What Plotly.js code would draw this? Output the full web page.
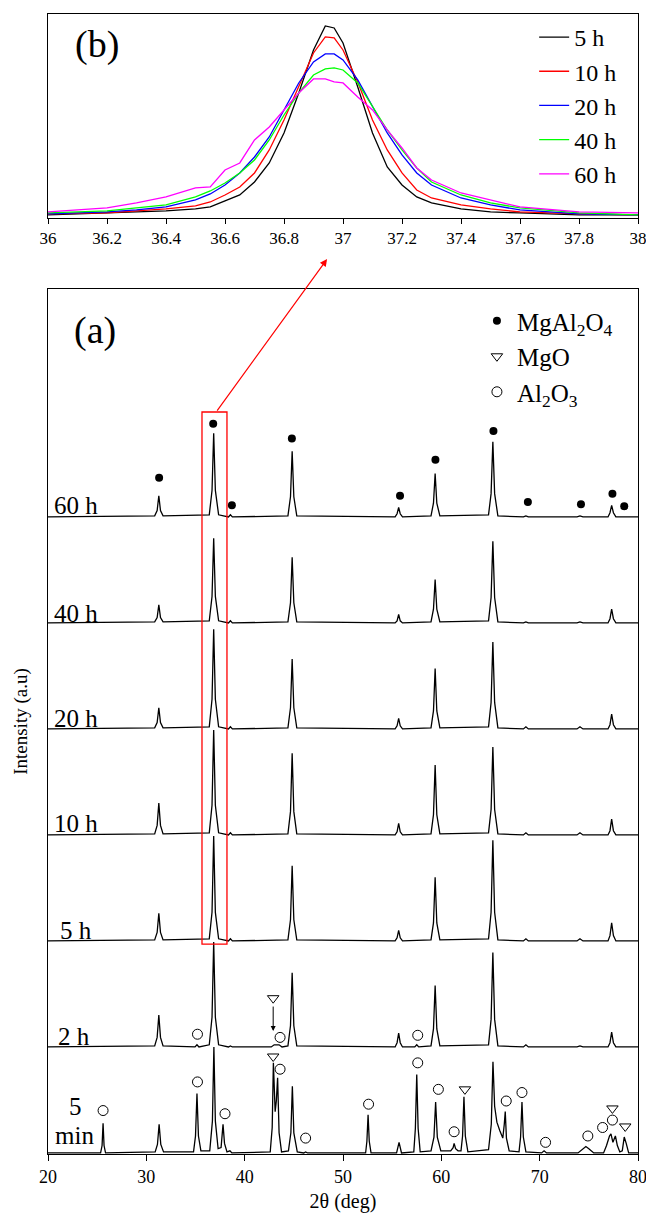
<!DOCTYPE html>
<html>
<head>
<meta charset="utf-8">
<script src="https://cdn.plot.ly/plotly-3.0.1.min.js"></script>
<style>html,body{margin:0;padding:0;background:#fff;}#chart{width:646px;height:1215px;}</style>
</head>
<body>
<div id="chart"></div>
<script>
// ---------- Panel (b): zoom on the (311) peak ----------
const zoomX = [36.0,36.2,36.3,36.4,36.5,36.55,36.6,36.65,36.7,36.75,36.8,36.85,36.9,36.94,36.97,37.0,37.05,37.1,37.15,37.2,37.25,37.3,37.4,37.5,37.6,37.8,38.0];
const zoom5h  = [3,5,6,7,9,11,17,23,36,55,85,125,168,192,190,175,131,85,51,33,21,15,9,6,5,3,3];
const zoom10h = [4,5,7,9,12,16,23,31,45,68,98,131,165,181,180,168,136,98,68,45,28,20,13,9,6,4,3];
const zoom20h = [4,6,8,11,18,24,33,45,61,81,108,135,156,164,164,158,138,111,85,63,45,33,20,13,8,4,3];
const zoom40h = [5,7,10,13,21,27,35,45,58,78,103,125,143,149,150,148,135,111,88,68,50,36,23,15,10,5,3];
const zoom60h = [6,10,15,21,30,31,48,55,78,91,108,125,139,139,136,135,121,108,88,70,50,38,25,18,11,6,5];
const zoomNames  = ['5 h','10 h','20 h','40 h','60 h'];
const zoomColors = ['#000000','#ff0000','#0000ff','#00ff00','#ff00ff'];
const zoomTickVals = [36,36.2,36.4,36.6,36.8,37,37.2,37.4,37.6,37.8,38];
const zoomTickText = ['36','36.2','36.4','36.6','36.8','37','37.2','37.4','37.6','37.8','38'];

// ---------- Panel (a): stacked XRD patterns ----------
const spinelX = [20,
  30.85,31.1,31.27,31.44,31.7,
  36.4,36.68,36.85,37.02,37.35,
  38.35,38.55,38.75,
  44.4,44.66,44.83,45.0,45.3,
  55.3,55.5,55.66,55.82,56.05,
  58.95,59.2,59.37,59.54,59.85,
  64.8,65.06,65.24,65.42,65.75,
  68.35,68.6,68.85,
  73.8,74.1,74.4,
  76.95,77.15,77.32,77.5,77.75,
  80];
const y60h = [0.01, 0.02,0.07,0.21,0.07,0.02, 0.03,0.26,0.80,0.26,0.03, 0.01,0.03,0.01, 0.02,0.20,0.63,0.20,0.02, 0.01,0.04,0.10,0.04,0.01, 0.02,0.14,0.42,0.14,0.02, 0.03,0.23,0.72,0.23,0.02, 0.01,0.02,0.01, 0.01,0.02,0.01, 0.01,0.05,0.12,0.05,0.01, 0.01];
const y40h = [0.01, 0.02,0.06,0.18,0.06,0.02, 0.03,0.26,0.81,0.26,0.03, 0.01,0.03,0.01, 0.02,0.20,0.63,0.20,0.02, 0.01,0.03,0.09,0.03,0.01, 0.02,0.14,0.42,0.14,0.02, 0.03,0.25,0.78,0.25,0.02, 0.01,0.02,0.01, 0.01,0.02,0.01, 0.01,0.05,0.14,0.05,0.01, 0.01];
const y20h = [0.01, 0.02,0.07,0.21,0.07,0.02, 0.03,0.29,0.95,0.29,0.03, 0.01,0.03,0.01, 0.02,0.21,0.67,0.21,0.02, 0.01,0.04,0.11,0.04,0.01, 0.02,0.18,0.58,0.18,0.02, 0.03,0.26,0.83,0.26,0.02, 0.01,0.03,0.01, 0.01,0.03,0.01, 0.01,0.05,0.15,0.05,0.01, 0.01];
const y10h = [0.01, 0.02,0.10,0.31,0.10,0.02, 0.03,0.29,1.00,0.29,0.03, 0.01,0.03,0.01, 0.02,0.23,0.78,0.23,0.02, 0.01,0.04,0.12,0.04,0.01, 0.02,0.20,0.67,0.20,0.02, 0.03,0.25,0.84,0.25,0.02, 0.01,0.03,0.01, 0.01,0.03,0.01, 0.01,0.05,0.16,0.05,0.01, 0.01];
const y5h  = [0.01, 0.02,0.09,0.27,0.09,0.02, 0.03,0.28,1.00,0.28,0.03, 0.01,0.03,0.01, 0.02,0.21,0.72,0.21,0.02, 0.01,0.04,0.11,0.04,0.01, 0.02,0.18,0.61,0.18,0.02, 0.03,0.28,0.96,0.28,0.02, 0.01,0.03,0.01, 0.01,0.03,0.01, 0.01,0.06,0.18,0.06,0.01, 0.01];

const x2h = [20, 30.85,31.1,31.27,31.44,31.7, 34.95,35.15,35.35, 36.4,36.68,36.85,37.02,37.35, 38.35,38.55,38.75, 42.7,43.0,43.5,43.8, 44.4,44.66,44.83,45.0,45.3, 55.3,55.5,55.66,55.82,56.05, 57.3,57.5,57.7, 58.95,59.2,59.37,59.54,59.85, 64.8,65.06,65.24,65.42,65.75, 68.35,68.6,68.85, 73.8,74.1,74.4, 76.95,77.15,77.32,77.5,77.75, 80];
const y2h = [0.01, 0.02,0.10,0.31,0.10,0.02, 0.01,0.03,0.01, 0.03,0.29,1.00,0.29,0.03, 0.01,0.02,0.01, 0.01,0.03,0.03,0.01, 0.02,0.21,0.71,0.21,0.02, 0.01,0.05,0.14,0.05,0.01, 0.01,0.03,0.01, 0.02,0.18,0.59,0.18,0.02, 0.03,0.27,0.90,0.27,0.02, 0.01,0.03,0.01, 0.01,0.02,0.01, 0.01,0.05,0.15,0.05,0.01, 0.01];

const x5min = [20,
  25.35,25.5,25.6,25.7,25.85,
  30.9,31.13,31.3,31.47,31.75,
  34.8,35.0,35.15,35.3,35.55,
  36.45,36.72,36.87,37.02,37.3,
  37.6,37.8,37.95,38.2,
  38.5,38.7,
  42.6,42.8,42.92,43.1,43.22,43.35,43.5,43.75,
  44.45,44.7,44.85,45.0,45.35,
  46.0,46.2,46.4,
  52.3,52.43,52.55,52.67,52.85,
  55.45,55.7,55.95,
  57.2,57.36,57.5,57.64,57.85,
  58.95,59.25,59.42,59.59,59.95,
  60.95,61.2,61.3,61.45,61.7,
  62.0,62.16,62.3,62.44,62.7,
  64.8,65.08,65.25,65.42,65.65,65.95,66.25,66.4,66.5,66.62,66.9,
  67.9,68.06,68.2,68.34,68.6,
  70.2,70.45,70.7,
  73.9,74.4,74.7,75.0,75.5,
  76.5,76.8,77.1,77.25,77.45,77.7,77.9,78.15,78.4,78.6,78.8,79.05,
  80];
const y5min = [0.01,
  0.01,0.08,0.29,0.08,0.01,
  0.02,0.09,0.28,0.09,0.02,
  0.02,0.17,0.57,0.17,0.03,
  0.03,0.31,1.01,0.31,0.05,
  0.06,0.28,0.10,0.02,
  0.03,0.01,
  0.02,0.25,0.86,0.40,0.50,0.72,0.20,0.02,
  0.03,0.20,0.64,0.20,0.02,
  0.01,0.02,0.01,
  0.01,0.12,0.37,0.12,0.01,
  0.01,0.11,0.01,
  0.02,0.24,0.75,0.24,0.02,
  0.03,0.16,0.49,0.16,0.03,
  0.03,0.06,0.10,0.05,0.03,
  0.03,0.17,0.54,0.17,0.02,
  0.04,0.28,0.87,0.45,0.30,0.22,0.15,0.28,0.40,0.15,0.03,
  0.02,0.16,0.49,0.16,0.02,
  0.01,0.03,0.01,
  0.01,0.05,0.07,0.05,0.01,
  0.01,0.08,0.17,0.19,0.11,0.17,0.08,0.02,0.03,0.16,0.10,0.01,
  0.01];

const patternLabels  = ['60 h','40 h','20 h','10 h','5 h','2 h'];
const patternOffsets = [6,5,4,3,2,1,0];
const mainTickVals = [20,30,40,50,60,70,80];
const mainTickText = ['20','30','40','50','60','70','80'];

// phase markers (absolute positions in the stacked plot)
const mgAl2O4X = [31.3,36.8,38.7,44.8,55.8,59.4,65.3,68.8,74.2,77.4,78.6];
const mgAl2O4Y = [6.38,6.89,6.12,6.75,6.21,6.55,6.82,6.15,6.13,6.23,6.11];
const mgoX = [42.9,42.9,62.4,77.4,78.7];
const mgoY = [1.47,0.92,0.61,0.43,0.26];
const al2o3X = [35.2,43.6,57.6, 25.6,35.2,38.0,43.6,46.2,52.6,57.6,59.7,61.3,66.6,68.2,70.6,74.9,76.4,77.4];
const al2o3Y = [1.13,1.10,1.12, 0.41,0.68,0.38,0.80,0.15,0.47,0.86,0.61,0.21,0.50,0.58,0.11,0.17,0.25,0.32];

// ---------- traces ----------
const FONT = 'Liberation Serif';
const traces = [];
const zoomSeries = [zoom5h, zoom10h, zoom20h, zoom40h, zoom60h];
zoomSeries.forEach((ys, i) => {
  traces.push({x: zoomX, y: ys, type: 'scatter', mode: 'lines', name: zoomNames[i],
    line: {color: zoomColors[i], width: 1.3}, xaxis: 'x', yaxis: 'y', legend: 'legend'});
});
const stacked = [[spinelX,y60h],[spinelX,y40h],[spinelX,y20h],[spinelX,y10h],[spinelX,y5h],[x2h,y2h],[x5min,y5min]];
stacked.forEach((p, i) => {
  traces.push({x: p[0], y: p[1].map(v => v + patternOffsets[i]), type: 'scatter', mode: 'lines',
    line: {color: '#000', width: 1.3}, xaxis: 'x2', yaxis: 'y2', showlegend: false, hoverinfo: 'skip'});
});
traces.push({x: mgAl2O4X, y: mgAl2O4Y, type: 'scatter', mode: 'markers', name: 'MgAl<sub>2</sub>O<sub>4</sub>',
  marker: {symbol: 'circle', size: 8, color: '#000'}, xaxis: 'x2', yaxis: 'y2', legend: 'legend2'});
traces.push({x: mgoX, y: mgoY, type: 'scatter', mode: 'markers', name: 'MgO',
  marker: {symbol: 'triangle-down-open', size: 10, color: '#000', line: {width: 1}}, xaxis: 'x2', yaxis: 'y2', legend: 'legend2'});
traces.push({x: al2o3X, y: al2o3Y, type: 'scatter', mode: 'markers', name: 'Al<sub>2</sub>O<sub>3</sub>',
  marker: {symbol: 'circle-open', size: 10, color: '#000', line: {width: 1}}, xaxis: 'x2', yaxis: 'y2', legend: 'legend2'});

// ---------- annotations ----------
const annotations = [];
const labelPos = [[20.4,6.12],[20.4,5.10],[20.4,4.11],[20.4,3.12],[21.0,2.11],[20.8,1.11]];
patternLabels.forEach((t, i) => {
  annotations.push({x: labelPos[i][0], y: labelPos[i][1], xref: 'x2', yref: 'y2', text: t, showarrow: false,
    xanchor: 'left', yanchor: 'middle', font: {family: FONT, size: 25, color: '#000'}});
});
annotations.push({x: 22.75, y: 0.45, xref: 'x2', yref: 'y2', text: '5', showarrow: false, xanchor: 'center', yanchor: 'middle', font: {family: FONT, size: 25, color: '#000'}});
annotations.push({x: 22.65, y: 0.17, xref: 'x2', yref: 'y2', text: 'min', showarrow: false, xanchor: 'center', yanchor: 'middle', font: {family: FONT, size: 25, color: '#000'}});
annotations.push({x: 0.041, y: 0.7276, xref: 'paper', yref: 'paper', text: '(a)', showarrow: false, xanchor: 'left', yanchor: 'middle', font: {family: FONT, size: 38, color: '#000'}});
annotations.push({x: 0.042, y: 0.963, xref: 'paper', yref: 'paper', text: '(b)', showarrow: false, xanchor: 'left', yanchor: 'middle', font: {family: FONT, size: 38, color: '#000'}});
// red arrow from the boxed peak up to panel (b)
annotations.push({x: 0.473, y: 0.7868, xref: 'paper', yref: 'paper', text: '', showarrow: true,
  ax: -111, ay: 153, arrowhead: 2, arrowsize: 1.2, arrowwidth: 1.2, arrowcolor: '#ff0000', standoff: 0});
// small black arrow (2 h, MgO)
annotations.push({x: 42.9, y: 1.16, xref: 'x2', yref: 'y2', text: '', showarrow: true,
  ax: 0, ay: -26, arrowhead: 2, arrowsize: 1, arrowwidth: 1, arrowcolor: '#000', standoff: 0});

const shapes = [{type: 'rect', xref: 'x2', yref: 'y2', x0: 35.66, x1: 38.2, y0: 1.98, y1: 7.0,
  line: {color: '#ff0000', width: 1.3}, fillcolor: 'rgba(0,0,0,0)'}];

const axisCommon = {showline: true, linecolor: '#000', linewidth: 1, mirror: true, showgrid: false, zeroline: false};
const layout = {
  width: 646, height: 1215,
  margin: {l: 48, r: 8, t: 0, b: 0},
  paper_bgcolor: '#fff', plot_bgcolor: '#fff',
  font: {family: FONT, color: '#000'},
  xaxis: Object.assign({}, axisCommon, {domain: [0, 1], anchor: 'y', range: [36, 38], tickmode: 'array',
    tickvals: zoomTickVals, ticktext: zoomTickText, ticklabeloverflow: 'allow',
    ticks: 'outside', ticklen: 5, tickcolor: '#000', tickfont: {family: FONT, size: 17, color: '#000'}}),
  yaxis: Object.assign({}, axisCommon, {domain: [0.8206, 0.9885], anchor: 'x', range: [0, 204], showticklabels: false, ticks: ''}),
  xaxis2: Object.assign({}, axisCommon, {domain: [0, 1], anchor: 'y2', range: [20, 80], tickmode: 'array',
    tickvals: mainTickVals, ticktext: mainTickText, ticklabeloverflow: 'allow',
    ticks: 'outside', ticklen: 6, tickcolor: '#000', tickfont: {family: FONT, size: 18, color: '#000'},
    title: {text: '2θ (deg)', font: {family: FONT, size: 20, color: '#000'}, standoff: 8}}),
  yaxis2: Object.assign({}, axisCommon, {domain: [0.0502, 0.7621], anchor: 'x2', range: [0, 8.16], showticklabels: false, ticks: '',
    title: {text: 'Intensity (a.u)', font: {family: FONT, size: 19, color: '#000'}, standoff: 14}}),
  legend: {x: 0.824, y: 0.9877, xanchor: 'left', yanchor: 'top', bgcolor: 'rgba(0,0,0,0)', borderwidth: 0,
    font: {family: FONT, size: 24, color: '#000'}},
  legend2: {x: 0.727, y: 0.7547, xanchor: 'left', yanchor: 'top', bgcolor: 'rgba(0,0,0,0)', borderwidth: 0,
    font: {family: FONT, size: 25, color: '#000'}},
  annotations: annotations,
  shapes: shapes
};
Plotly.newPlot('chart', traces, layout, {displayModeBar: false, staticPlot: true});
</script>
</body>
</html>
